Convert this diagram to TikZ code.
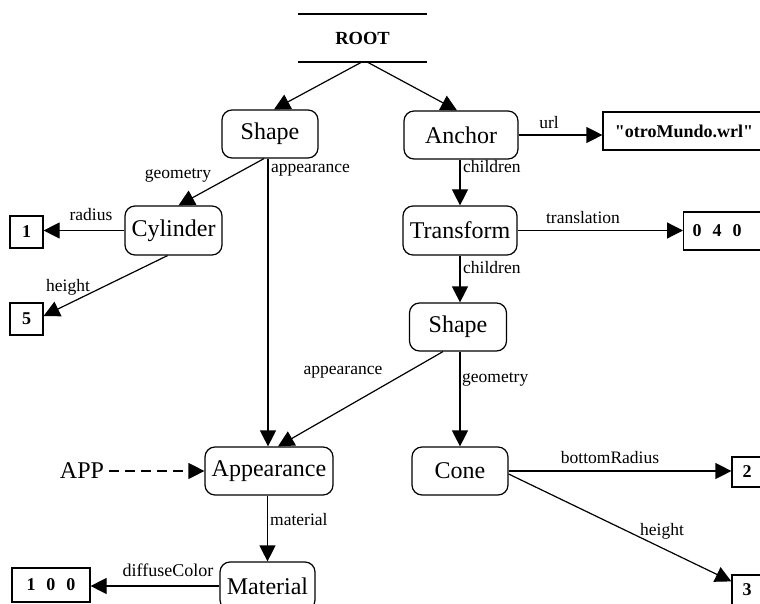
\documentclass[tikz,border=0pt]{standalone}
\usepackage{fontspec}
\setmainfont{Liberation Serif}
\newfontfamily\rawserif{Liberation Serif}[Ligatures=TeXOff]
\usetikzlibrary{arrows.meta}
\tikzset{
  rbox/.style={draw, line width=1.2pt, rounded corners=10pt, minimum height=48pt, inner sep=0pt, font=\fontsize{24}{27}\selectfont},
  vbox/.style={draw, line width=1.2pt, inner sep=0pt, font=\bfseries\fontsize{18}{20}\selectfont},
  lbl/.style={font=\fontsize{17.5}{20}\selectfont, inner sep=0pt},
  edge/.style={line width=1.2pt, -{Triangle[length=16pt,width=16pt]}},
}
\begin{document}
\begin{tikzpicture}[x=1pt,y=-1pt]
\useasboundingbox (0,0) rectangle (760,604);
\fill[white] (0,0) rectangle (760,604);
\clip (0,0) rectangle (760,604);

% root
\node[minimum width=129pt, minimum height=48pt, inner sep=0pt, font=\bfseries\fontsize{18.5}{20}\selectfont] (root) at (362.5,38) {ROOT};
\draw[line width=1.5pt] (root.north west) -- (root.north east);
\draw[line width=1.5pt] (root.south west) -- (root.south east);

% rounded nodes
\node[rbox, minimum width=96pt] (shapeA) at (270,134) {Shape};
\node[rbox, minimum width=114pt] (anchor) at (461,135) {Anchor};
\node[rbox, minimum width=114pt, minimum height=49pt] (transform) at (460,230.5) {Transform};
\node[rbox, minimum width=97pt] (shapeB) at (458,327) {Shape};
\node[rbox, minimum width=96pt] (cone) at (460,471) {Cone};
\node[rbox, minimum width=128pt] (appearance) at (269,471) {Appearance};
\node[rbox, minimum width=97pt, minimum height=49pt] (cylinder) at (173.5,230.5) {Cylinder};
\node[rbox, minimum width=95pt] (material) at (267.5,586) {Material};

% value boxes
\node[vbox, minimum width=162pt, minimum height=38pt] (url) at (684,131) {{\rawserif\bfseries "otroMundo.wrl"}};
\node[vbox, minimum height=38pt, anchor=west, text width=70pt, align=left, inner xsep=9pt] (v040) at (683,231) {0\hspace{11pt}4\hspace{11pt}0};
\node[vbox, minimum width=33pt, minimum height=32pt] (v1) at (26.5,232) {1};
\node[vbox, minimum width=33pt, minimum height=32pt] (v5) at (26.5,319) {5};
\node[vbox, minimum width=30pt, minimum height=30pt] (v2) at (747,472) {2};
\node[vbox, minimum width=30pt, minimum height=30pt] (v3) at (747,590) {3};
\node[vbox, minimum width=78pt, minimum height=34pt] (v100) at (51,585) {1\hspace{11pt}0\hspace{11pt}0};

\node[font=\fontsize{24}{27}\selectfont, inner sep=0pt] (app) at (82,471) {APP};

% edges
\draw[edge] ([xshift=-1pt]root.south) -- ([xshift=4pt]shapeA.north);
\draw[edge] ([xshift=5pt]root.south) -- ([xshift=-4pt]anchor.north);
\draw[edge] ([xshift=-6pt]shapeA.south) -- ([xshift=5pt]cylinder.north);
\draw[edge] ([xshift=-2pt]shapeA.south) -- ([xshift=-1pt]appearance.north);
\draw[edge] ([xshift=-15pt]shapeB.south) -- ([xshift=9pt]appearance.north);
\draw[edge] (cylinder.west) -- (cylinder.west -| v1.east);
\draw[edge] ([xshift=-6pt]cylinder.south) -- ([yshift=3pt]v5.east);
\draw[edge] (anchor.east) -- (anchor.east -| url.west);
\draw[edge] (anchor.south -| transform.north) -- (transform.north);
\draw[edge] (transform.east) -- (transform.east -| v040.west);
\draw[edge] (transform.south) -- (transform.south |- shapeB.north);
\draw[edge] (shapeB.south -| cone.north) -- (cone.north);
\draw[edge] (appearance.south -| material.north) -- (material.north);
\draw[edge] (material.west) -- (material.west -| v100.east);
\draw[edge] (cone.east) -- (cone.east -| v2.west);
\draw[edge] ([yshift=-3pt]cone.east) -- ([yshift=-7pt]v3.north west);
\draw[edge, dash pattern=on 10pt off 6pt] ([xshift=5pt]app.east) -- (appearance.west);

% labels
\node[lbl] (lgeomA) at (178,175) {geometry};
\node[lbl, anchor=west] (lappA) at (271,170) {appearance};
\node[lbl] (lrad) at (91,215) {radius};
\node[lbl] (lhA) at (68,287) {height};
\node[lbl] (lurl) at (549,123) {url};
\node[lbl, anchor=west] (lchA) at (463,167) {children};
\node[lbl] (ltr) at (583,218) {translation};
\node[lbl, anchor=west] (lchB) at (463,268) {children};
\node[lbl] (lappB) at (343,372) {appearance};
\node[lbl, anchor=west] (lgeomB) at (462,379) {geometry};
\node[lbl] (lbr) at (610,458) {bottomRadius};
\node[lbl] (lhB) at (662,531) {height};
\node[lbl, anchor=west] (lmat) at (270,520) {material};
\node[lbl, font=\fontsize{18}{20}\selectfont] (ldc) at (168,570) {diffuseColor};
\end{tikzpicture}
\end{document}
